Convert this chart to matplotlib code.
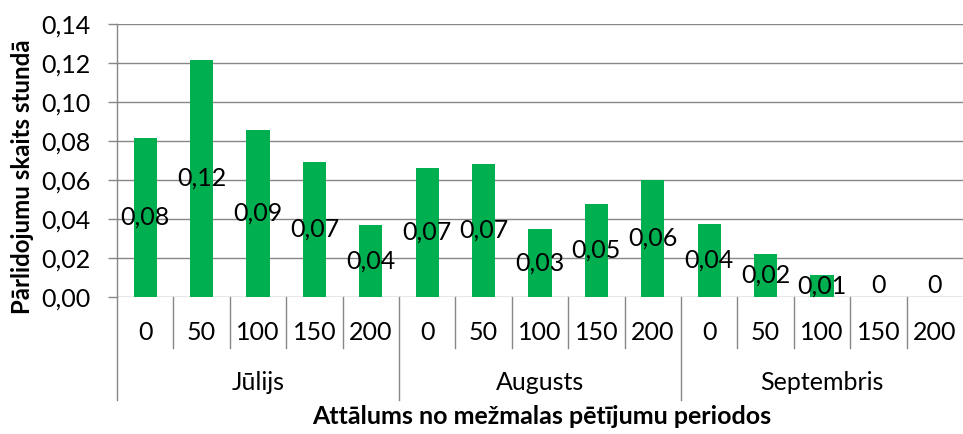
import matplotlib
matplotlib.use("Agg")
import matplotlib.pyplot as plt
import numpy as np

plt.rcParams['font.family'] = ['Lato', 'DejaVu Sans']

months = ["Jūlijs", "Augusts", "Septembris"]
distances = ["0", "50", "100", "150", "200"]
values = [0.0815, 0.1215, 0.0856, 0.0692, 0.0369,
          0.0662, 0.0682, 0.0349, 0.0477, 0.0600,
          0.0374, 0.0220, 0.0113, 0.0, 0.0]
yticks = [0.00, 0.02, 0.04, 0.06, 0.08, 0.10, 0.12, 0.14]

W, H = 963, 434
fig = plt.figure(figsize=(W / 100, H / 100), dpi=100)
x0, x1, ytop, ybot = 117, 963, 24, 297
ax = fig.add_axes([x0 / W, (H - ybot) / H, (x1 - x0) / W, (ybot - ytop) / H])

FS = 18
n = len(values)
x = np.arange(n)
green = "#00B050"
grid = "#878787"
ax.bar(x, values, width=0.41, color=green, zorder=3)
ax.set_xlim(-0.5, n - 0.5)
ax.set_ylim(0, 0.14)
ax.set_yticks(yticks)
ax.set_yticklabels([f"{t:.2f}".replace(".", ",") for t in yticks], fontsize=FS)
ax.yaxis.grid(True, color=grid, linewidth=1.0, zorder=0)
ax.set_axisbelow(True)
ax.tick_params(axis="y", length=6.5, width=1.0, color=grid, pad=12.5)
ax.set_xticks([])
for s in ["top", "right", "bottom"]:
    ax.spines[s].set_visible(False)
ax.spines["left"].set_color(grid)
ax.spines["left"].set_linewidth(1.0)

# data labels centered in bars
for xi, v in zip(x, values):
    txt = "0" if v == 0 else f"{v:.2f}".replace(".", ",")
    if v == 0:
        ax.text(xi, 0.0, txt, ha="center", va="bottom", fontsize=FS, zorder=4)
    else:
        ax.text(xi, v / 2, txt, ha="center", va="center", fontsize=FS, zorder=4)

# multi-level category axis
ph = ybot - ytop
sub_depth = -(348 - ybot) / ph
grp_depth = -(400 - ybot) / ph
per = len(distances)
for i in range(n):
    lab = distances[i % per]
    ax.text(i, -(332 - ybot) / ph, lab, transform=ax.get_xaxis_transform(),
            ha="center", va="center", fontsize=FS)
for i in range(n):
    xb = i - 0.5
    depth = grp_depth if i % per == 0 else sub_depth
    ax.plot([xb, xb], [0, depth], transform=ax.get_xaxis_transform(),
            color=grid, linewidth=1.0, clip_on=False)
for g, m in enumerate(months):
    xc = g * per + (per - 1) / 2
    ax.text(xc, -(383 - ybot) / ph, m, transform=ax.get_xaxis_transform(),
            ha="center", va="center", fontsize=FS)

fig.text(542 / W, 1 - 417 / H, "Attālums no mežmalas pētījumu periodos",
         ha="center", va="center", fontsize=18, fontweight="bold")
fig.text(23 / W, 1 - 177 / H, "Pārlidojumu skaits stundā", rotation=90,
         ha="center", va="center", fontsize=17.3, fontweight="bold")

fig.savefig("out.png", dpi=100)
